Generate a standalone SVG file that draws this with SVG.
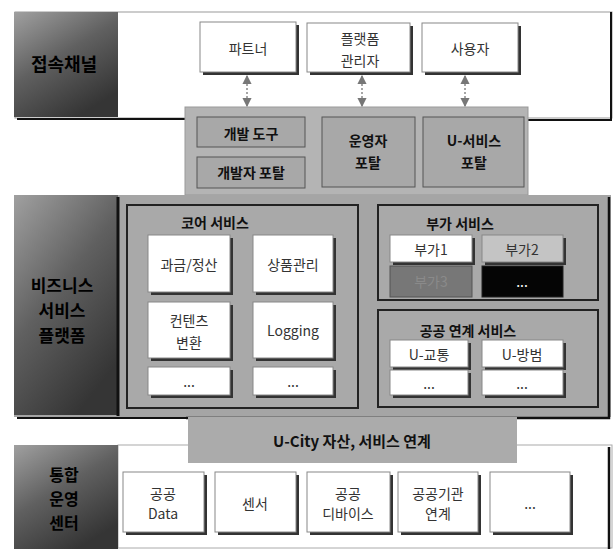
<svg xmlns="http://www.w3.org/2000/svg" width="613" height="549" viewBox="0 0 613 549">
<defs>
<linearGradient id="lab" x1="0" y1="0" x2="0.6" y2="1">
<stop offset="0" stop-color="#a0a0a0"/>
<stop offset="0.5" stop-color="#606060"/>
<stop offset="1" stop-color="#353535"/>
</linearGradient>
<marker id="ah" viewBox="0 0 8 8" refX="7" refY="4" markerWidth="7" markerHeight="7" orient="auto-start-reverse">
<path d="M0,0 L8,4 L0,8 z" fill="#777"/>
</marker>
<style>
.t{font-family:"Noto Sans CJK KR","Liberation Sans",sans-serif;fill:#111;text-anchor:middle;dominant-baseline:central}
.n{font-size:14px;fill:#333}
.b{font-weight:bold;font-size:14px}
.L{font-weight:bold;font-size:17px;fill:#000}
.box{fill:#fff;stroke:#888;stroke-width:1}
.sh{fill:#333}
.frame{fill:#a9a9a9;stroke:#222;stroke-width:2}
.dash{stroke:#777;stroke-width:1.3;stroke-dasharray:2 2;fill:none}
</style>
</defs>

<!-- Section 1: access channel -->
<g id="channel">
<rect x="15" y="12" width="597" height="106" fill="#fff" stroke="#999" stroke-width="1"/>
<path d="M611,12 V120 H527" fill="none" stroke="#111" stroke-width="2"/>
<path d="M17,119 H186" fill="none" stroke="#111" stroke-width="2"/>
<rect x="14" y="12" width="104" height="105" fill="url(#lab)"/>
<text class="t L" x="64" y="63" style="font-size:18px">접속채널</text>
</g>

<g id="partner">
<rect class="sh" x="203" y="25" width="96" height="50"/>
<rect class="box" x="200" y="22" width="96" height="50"/>
<text class="t n" x="248" y="48">파트너</text>
</g>
<g id="platform-admin">
<rect class="sh" x="310" y="26" width="103" height="49"/>
<rect class="box" x="307" y="23" width="103" height="49"/>
<text class="t n" x="360" y="38">플랫폼</text>
<text class="t n" x="360" y="60">관리자</text>
</g>
<g id="user">
<rect class="sh" x="425" y="26" width="96" height="49"/>
<rect class="box" x="422" y="23" width="96" height="49"/>
<text class="t n" x="470" y="48">사용자</text>
</g>

<!-- Portal block -->
<g id="portal">
<rect x="185" y="107" width="343" height="88" fill="#b4b4b4" stroke="#999"/>
</g>
<g id="dev-tool">
<rect x="197" y="117" width="108" height="30" fill="#a8a8a8" stroke="#555"/>
<text class="t b" x="251" y="133">개발 도구</text>
</g>
<g id="dev-portal">
<rect x="197" y="157" width="108" height="31" fill="#a8a8a8" stroke="#555"/>
<text class="t b" x="251" y="172">개발자 포탈</text>
</g>
<g id="op-portal">
<rect x="322" y="117" width="93" height="70" fill="#a8a8a8" stroke="#555"/>
<text class="t b" x="368" y="140">운영자</text>
<text class="t b" x="368" y="162">포탈</text>
</g>
<g id="u-portal">
<rect x="423" y="117" width="101" height="70" fill="#a8a8a8" stroke="#555"/>
<text class="t b" x="474" y="140">U-서비스</text>
<text class="t b" x="474" y="162">포탈</text>
</g>

<!-- Section 2: business service platform -->
<g id="business">
<rect x="14" y="195" width="597" height="222" fill="#a5a5a5"/>
<path d="M609,197 V418 H186" fill="none" stroke="#111" stroke-width="2.5"/>
<path d="M17,418 H186" fill="none" stroke="#111" stroke-width="2"/>
<rect x="14" y="195" width="104" height="220" fill="url(#lab)"/>
<path d="M118,197 V416" stroke="#111" stroke-width="3"/>
<text class="t L" x="62" y="284">비즈니스</text>
<text class="t L" x="62" y="309">서비스</text>
<text class="t L" x="62" y="334">플랫폼</text>
</g>

<g id="core">
<rect class="frame" x="127" y="205" width="231" height="203"/>
<text class="t b" x="215" y="222">코어 서비스</text>
</g>
<g id="billing">
<rect class="sh" x="151" y="238" width="82" height="57"/>
<rect class="box" x="148" y="235" width="82" height="57"/>
<text class="t n" x="189" y="264">과금/정산</text>
</g>
<g id="product">
<rect class="sh" x="256" y="238" width="80" height="57"/>
<rect class="box" x="253" y="235" width="80" height="57"/>
<text class="t n" x="293" y="264">상품관리</text>
</g>
<g id="content">
<rect class="sh" x="151" y="305" width="82" height="56"/>
<rect class="box" x="148" y="302" width="82" height="56"/>
<text class="t n" x="189" y="320">컨텐츠</text>
<text class="t n" x="189" y="342">변환</text>
</g>
<g id="logging">
<rect class="sh" x="256" y="305" width="80" height="56"/>
<rect class="box" x="253" y="302" width="80" height="56"/>
<text class="t n" x="293" y="330">Logging</text>
</g>
<g id="core-etc1">
<rect class="sh" x="151" y="370" width="82" height="28"/>
<rect class="box" x="148" y="367" width="82" height="28"/>
<text class="t n" x="189" y="381">...</text>
</g>
<g id="core-etc2">
<rect class="sh" x="256" y="370" width="80" height="28"/>
<rect class="box" x="253" y="367" width="80" height="28"/>
<text class="t n" x="293" y="381">...</text>
</g>

<g id="addon">
<rect class="frame" x="378" y="205" width="220" height="95"/>
<text class="t b" x="460" y="223">부가 서비스</text>
</g>
<g id="addon1">
<rect class="sh" x="393" y="238" width="82" height="27"/>
<rect class="box" x="390" y="235" width="82" height="27"/>
<text class="t n" x="431" y="249">부가1</text>
</g>
<g id="addon2">
<rect class="sh" x="485" y="238" width="81" height="27"/>
<rect x="482" y="235" width="81" height="27" fill="#c4c4c4" stroke="#888"/>
<text class="t n" x="522" y="249">부가2</text>
</g>
<g id="addon3">
<rect x="390" y="266" width="82" height="31" fill="#777" stroke="#555"/>
<text class="t n" x="431" y="281" style="fill:#8a8a8a">부가3</text>
</g>
<g id="addon-etc">
<rect x="482" y="266" width="81" height="31" fill="#050505" stroke="#222"/>
<text class="t n" x="522" y="281" style="fill:#fff">...</text>
</g>

<g id="public">
<rect class="frame" x="378" y="310" width="220" height="97"/>
<text class="t b" x="468" y="330">공공 연계 서비스</text>
</g>
<g id="u-traffic">
<rect class="sh" x="393" y="343" width="78" height="27"/>
<rect class="box" x="390" y="340" width="78" height="27"/>
<text class="t n" x="429" y="354">U-교통</text>
</g>
<g id="u-crime">
<rect class="sh" x="485" y="343" width="81" height="27"/>
<rect class="box" x="482" y="340" width="81" height="27"/>
<text class="t n" x="522" y="354">U-방범</text>
</g>
<g id="pub-etc1">
<rect class="sh" x="393" y="373" width="78" height="25"/>
<rect class="box" x="390" y="370" width="78" height="25"/>
<text class="t n" x="429" y="383">...</text>
</g>
<g id="pub-etc2">
<rect class="sh" x="485" y="373" width="81" height="25"/>
<rect class="box" x="482" y="370" width="81" height="25"/>
<text class="t n" x="522" y="383">...</text>
</g>

<!-- Section 3: integrated operation center -->
<g id="center">
<rect x="118" y="445" width="494" height="103" fill="#fff" stroke="#aaa" stroke-width="1"/>
<path d="M609,447 V549" stroke="#111" stroke-width="2.5"/>
<rect x="14" y="445" width="104" height="104" fill="url(#lab)"/>
<text class="t L" x="64" y="474" style="font-size:16px">통합</text>
<text class="t L" x="64" y="498" style="font-size:16px">운영</text>
<text class="t L" x="64" y="522" style="font-size:16px">센터</text>
</g>

<g id="ucity">
<rect x="188" y="417" width="329" height="46" fill="#ababab"/>
<text class="t b" x="352" y="440" style="font-size:15px">U-City 자산, 서비스 연계</text>
</g>

<g id="pub-data">
<rect class="sh" x="126" y="475" width="81" height="60"/>
<rect class="box" x="123" y="472" width="81" height="60"/>
<text class="t n" x="163" y="493">공공</text>
<text class="t n" x="163" y="513">Data</text>
</g>
<g id="sensor">
<rect class="sh" x="218" y="475" width="81" height="60"/>
<rect class="box" x="215" y="472" width="81" height="60"/>
<text class="t n" x="255" y="503">센서</text>
</g>
<g id="pub-device">
<rect class="sh" x="310" y="475" width="83" height="60"/>
<rect class="box" x="307" y="472" width="83" height="60"/>
<text class="t n" x="348" y="493">공공</text>
<text class="t n" x="348" y="513">디바이스</text>
</g>
<g id="pub-agency">
<rect class="sh" x="401" y="475" width="80" height="60"/>
<rect class="box" x="398" y="472" width="80" height="60"/>
<text class="t n" x="438" y="493">공공기관</text>
<text class="t n" x="438" y="513">연계</text>
</g>
<g id="bottom-etc">
<rect class="sh" x="493" y="475" width="80" height="60"/>
<rect class="box" x="490" y="472" width="80" height="60"/>
<text class="t n" x="530" y="503">...</text>
</g>

<g id="connectors">
<line class="dash" x1="247" y1="76" x2="247" y2="106" marker-start="url(#ah)" marker-end="url(#ah)"/>
<line class="dash" x1="362" y1="76" x2="362" y2="106" marker-start="url(#ah)" marker-end="url(#ah)"/>
<line class="dash" x1="465" y1="76" x2="465" y2="106" marker-start="url(#ah)" marker-end="url(#ah)"/>
</g>
</svg>
